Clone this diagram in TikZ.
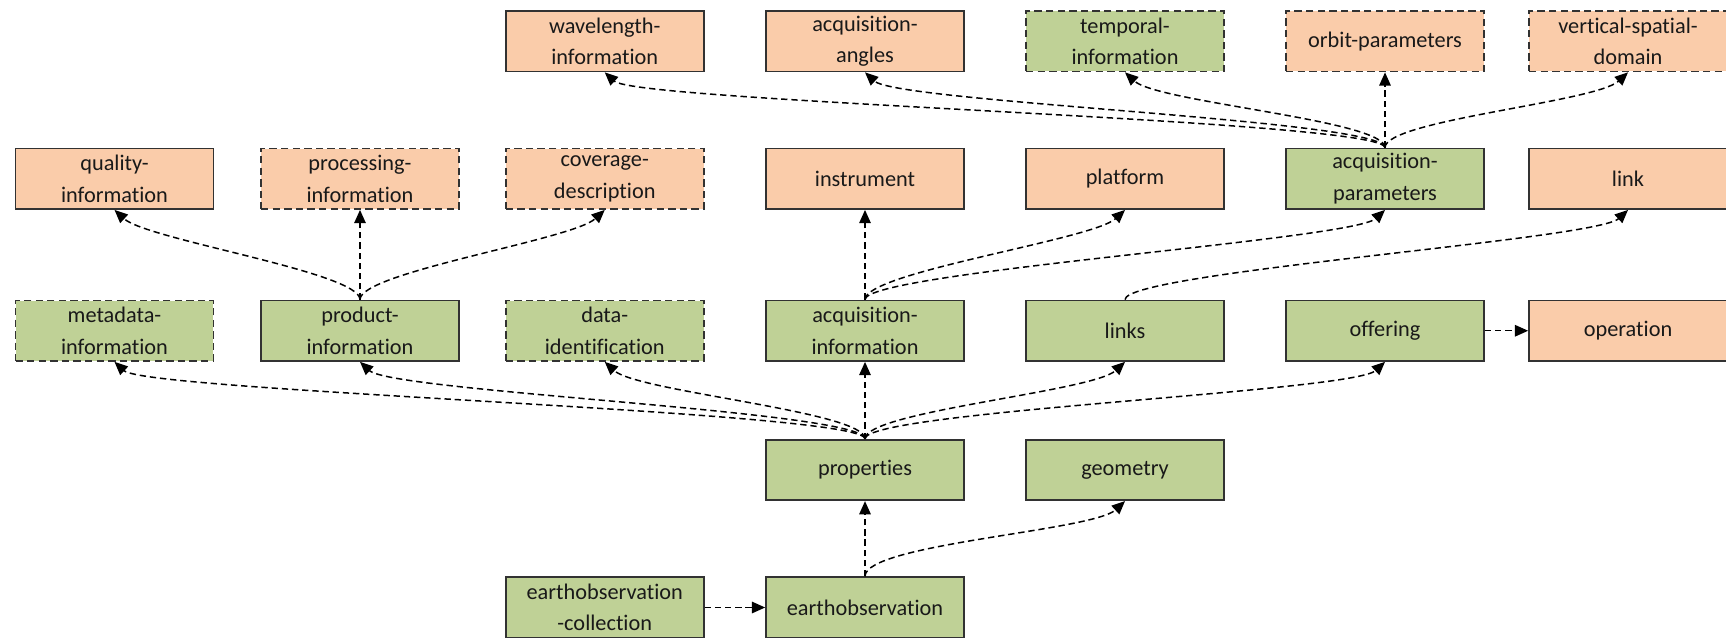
\documentclass[tikz,border=0pt]{standalone}
\usepackage{fontspec}
\setmainfont{Carlito}[Ligatures=NoCommon]
\usetikzlibrary{arrows.meta}
\definecolor{peach}{RGB}{250,204,170}
\definecolor{leaf}{RGB}{191,209,150}
\definecolor{rim}{RGB}{50,50,50}
\begin{document}
\begin{tikzpicture}[x=0.02cm,y=-0.02cm,
  box/.style={draw=rim, line width=1pt, minimum width=3.96cm, minimum height=1.21cm,
    inner sep=0pt, align=center, font=\fontsize{12.7}{18}\selectfont, text=black!90},
  org/.style={box, fill=peach},
  grn/.style={box, fill=leaf},
  optbox/.style={dash pattern=on 4.2pt off 2.4pt},
  rel/.style={draw=black, line width=0.85pt, dash pattern=on 3.6pt off 2.2pt,
    -{Triangle[length=7.5pt,width=6.5pt]}},
]
\useasboundingbox (0,0) rectangle (1726,638);

% top row
\node[org] (wav) at (604.75,41.25) {wavelength-\\information};
\node[org] (ang) at (865,41.25) {acquisition-\\angles};
\node[grn,optbox] (tmp) at (1125,41.25) {temporal-\\information};
\node[org,optbox] (orb) at (1385,41.25) {orbit-parameters};
\node[org,optbox] (vsd) at (1628,41.25) {vertical-spatial-\\domain};

% second row
\node[org] (qual) at (114.5,178.8) {quality-\\information};
\node[org,optbox] (proc) at (360,178.8) {processing-\\information};
\node[org,optbox] (cov) at (604.75,178.8) {coverage-\\description};
\node[org] (inst) at (865,178.8) {instrument};
\node[org] (plat) at (1125,178.8) {platform};
\node[grn] (aqp) at (1385,178.8) {acquisition-\\parameters};
\node[org] (lnk) at (1628,178.8) {link};

% third row
\node[grn,optbox] (meta) at (114.5,330.75) {metadata-\\information};
\node[grn] (prod) at (360,330.75) {product-\\information};
\node[grn,optbox] (did) at (604.75,330.75) {data-\\identification};
\node[grn] (aqi) at (865,330.75) {acquisition-\\information};
\node[grn] (links) at (1125,330.75) {links};
\node[grn] (off) at (1385,330.75) {offering};
\node[org] (op) at (1628,330.75) {operation};

% lower rows
\node[grn] (props) at (865,470) {properties};
\node[grn] (geom) at (1125,470) {geometry};
\node[grn] (eoc) at (604.75,607.5) {earthobservation\\-collection};
\node[grn] (eo) at (865,607.5) {earthobservation};

% earthobservation
\draw[rel] (eoc.east) -- (eo.west);
\draw[rel] (eo.north) -- (props.south);
\draw[rel] (eo.north) .. controls +(0,0.65cm) and +(-0.65cm,-0.6cm) .. (geom.south);

% properties
\draw[rel] (props.north) .. controls +(0,0.55cm) and +(0.65cm,-0.6cm) .. (meta.south);
\draw[rel] (props.north) .. controls +(0,0.55cm) and +(0.65cm,-0.6cm) .. (prod.south);
\draw[rel] (props.north) .. controls +(0,0.55cm) and +(0.65cm,-0.6cm) .. (did.south);
\draw[rel] (props.north) -- (aqi.south);
\draw[rel] (props.north) .. controls +(0,0.55cm) and +(-0.65cm,-0.6cm) .. (links.south);
\draw[rel] (props.north) .. controls +(0,0.55cm) and +(-0.65cm,-0.6cm) .. (off.south);

% product-information
\draw[rel] (prod.north) .. controls +(0,0.55cm) and +(0.65cm,-0.6cm) .. (qual.south);
\draw[rel] (prod.north) -- (proc.south);
\draw[rel] (prod.north) .. controls +(0,0.55cm) and +(-0.65cm,-0.6cm) .. (cov.south);

% acquisition-information
\draw[rel] (aqi.north) -- (inst.south);
\draw[rel] (aqi.north) .. controls +(0,0.55cm) and +(-0.65cm,-0.6cm) .. (plat.south);
\draw[rel] (aqi.north) .. controls +(0,0.55cm) and +(-0.65cm,-0.6cm) .. (aqp.south);

% links, offering
\draw[rel] (links.north) .. controls +(0,0.55cm) and +(-0.65cm,-0.6cm) .. (lnk.south);
\draw[rel] (off.east) -- (op.west);

% acquisition-parameters
\draw[rel] (aqp.north) .. controls +(0,0.55cm) and +(0.65cm,-0.6cm) .. (wav.south);
\draw[rel] (aqp.north) .. controls +(0,0.55cm) and +(0.65cm,-0.6cm) .. (ang.south);
\draw[rel] (aqp.north) .. controls +(0,0.55cm) and +(0.65cm,-0.6cm) .. (tmp.south);
\draw[rel] (aqp.north) -- (orb.south);
\draw[rel] (aqp.north) .. controls +(0,0.55cm) and +(-0.65cm,-0.6cm) .. (vsd.south);
\end{tikzpicture}
\end{document}
